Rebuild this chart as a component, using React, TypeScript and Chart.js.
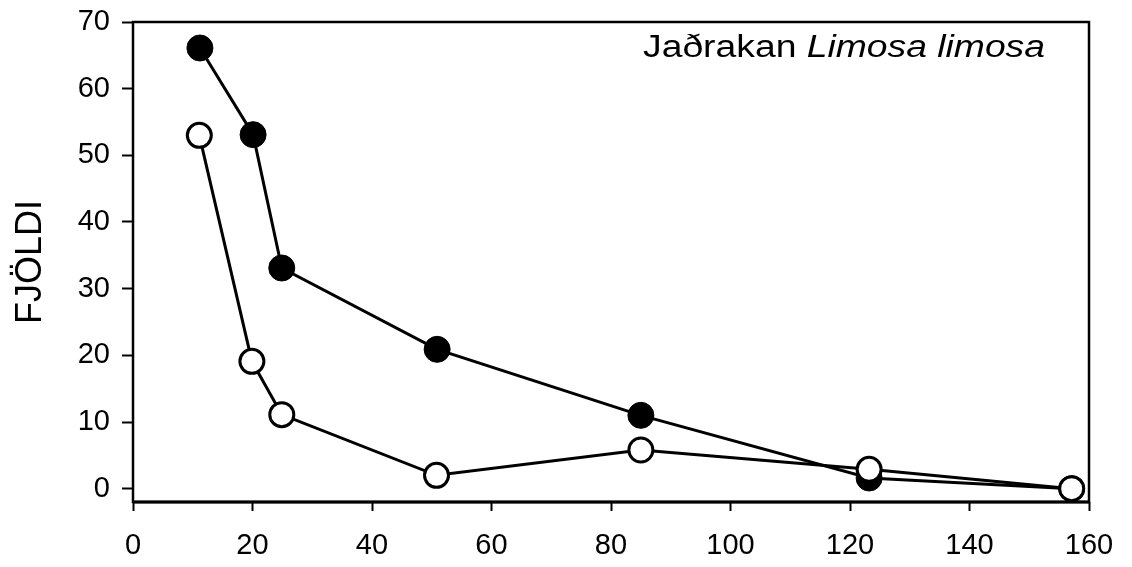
import React, { useEffect, useRef } from "react";
import { Chart, registerables } from "chart.js";

Chart.register(...registerables);

const filledX = [11.2, 20.1, 24.9, 50.9, 85, 123.2, 157.1];
const filledY = [66.1, 53.1, 33.1, 20.9, 11, 1.6, 0];
const openX = [11.1, 19.9, 24.9, 50.8, 85, 123.2, 157.1];
const openY = [53, 19.1, 11.1, 2, 5.8, 2.9, 0];
const yTicks = [0, 10, 20, 30, 40, 50, 60, 70];
const xTicks = [0, 20, 40, 60, 80, 100, 120, 140, 160];
const yLabel = "FJÖLDI";
const titleNormal = "Jaðrakan ";
const titleItalic = "Limosa limosa";

const FONT = "'Liberation Sans', Arial, sans-serif";

export default function App() {
  const ref = useRef<HTMLCanvasElement | null>(null);
  useEffect(() => {
    if (!ref.current) return;
    const framePlugin = {
      id: "frame",
      afterDraw(chart: any) {
        const { ctx, chartArea } = chart;
        ctx.save();
        ctx.strokeStyle = "#000";
        ctx.lineWidth = 2.5;
        ctx.strokeRect(chartArea.left, chartArea.top, chartArea.right - chartArea.left, chartArea.bottom - chartArea.top);
        ctx.lineWidth = 3;
        ctx.beginPath();
        ctx.moveTo(chartArea.left, chartArea.bottom);
        ctx.lineTo(chartArea.right, chartArea.bottom);
        ctx.stroke();
        // title annotation
        const fs = 31;
        ctx.fillStyle = "#000";
        ctx.textBaseline = "alphabetic";
        ctx.font = `${fs}px ${FONT}`;
        const w1 = ctx.measureText(titleNormal).width;
        ctx.font = `italic ${fs}px ${FONT}`;
        const w2 = ctx.measureText(titleItalic).width;
        const targetW = 402;
        const sx = targetW / (w1 + w2);
        const xEnd = chartArea.right - 44;
        const xStart = xEnd - targetW;
        const yb = chartArea.top + 35;
        ctx.translate(xStart, yb);
        ctx.scale(sx, 1);
        ctx.font = `${fs}px ${FONT}`;
        ctx.fillText(titleNormal, 0, 0);
        ctx.font = `italic ${fs}px ${FONT}`;
        ctx.fillText(titleItalic, w1, 0);
        ctx.restore();
      },
    };
    const chart = new Chart(ref.current, {
      type: "line",
      data: {
        datasets: [
          {
            label: "open",
            data: openX.map((x, i) => ({ x, y: openY[i] })),
            borderColor: "#000",
            borderWidth: 3,
            backgroundColor: "#fff",
            pointBackgroundColor: "#fff",
            pointBorderColor: "#000",
            pointBorderWidth: 3,
            pointRadius: 12,
            order: 0,
          },
          {
            label: "filled",
            data: filledX.map((x, i) => ({ x, y: filledY[i] })),
            borderColor: "#000",
            borderWidth: 3,
            backgroundColor: "#000",
            pointBackgroundColor: "#000",
            pointBorderColor: "#000",
            pointBorderWidth: 1,
            pointRadius: 13,
            order: 1,
          },
        ],
      },
      options: {
        animation: false,
        responsive: false,
        maintainAspectRatio: false,
        layout: { padding: { left: 0, top: 22, right: 43, bottom: 0 } },
        plugins: { legend: { display: false }, tooltip: { enabled: false } },
        scales: {
          x: {
            type: "linear",
            min: 0,
            max: 160,
            afterBuildTicks: (s: any) => {
              s.ticks = xTicks.map((v) => ({ value: v }));
            },
            afterFit: (s: any) => {
              s.height = 65;
              s.paddingLeft = 0;
              s.paddingRight = 0;
            },
            grid: { drawOnChartArea: false, drawTicks: true, tickLength: 9, tickColor: "#000", tickWidth: 2, color: "#000" },
            border: { display: false },
            ticks: { color: "#000", font: { family: FONT, size: 29 }, padding: 18, maxRotation: 0, autoSkip: false },
          },
          y: {
            type: "linear",
            min: -2,
            max: 70,
            afterBuildTicks: (s: any) => {
              s.ticks = yTicks.map((v) => ({ value: v }));
            },
            afterFit: (s: any) => {
              s.width = 133;
              s.paddingTop = 0;
              s.paddingBottom = 0;
            },
            grid: { drawOnChartArea: false, drawTicks: true, tickLength: 11, tickColor: "#000", tickWidth: 2, color: "#000" },
            border: { display: false },
            ticks: { color: "#000", font: { family: FONT, size: 29 }, padding: 12, autoSkip: false },
            title: { display: true, text: yLabel, color: "#000", font: { family: FONT, size: 36 }, padding: { top: 9, bottom: 0 } },
          },
        },
      },
      plugins: [framePlugin],
    });
    return () => chart.destroy();
  }, []);
  return (
    <div style={{ position: "absolute", left: 0, top: 0, width: 1132, height: 567, background: "#fff" }}>
      <canvas ref={ref} width={1132} height={567} style={{ width: 1132, height: 567 }} />
    </div>
  );
}
